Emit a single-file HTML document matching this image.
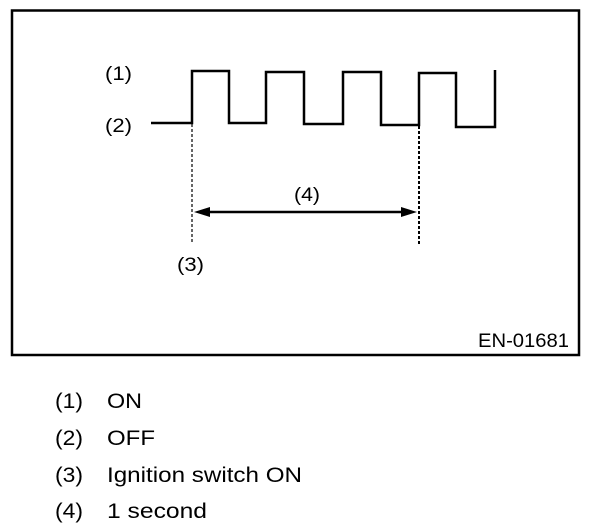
<!DOCTYPE html>
<html><head><style>
body{margin:0;background:#fff;width:608px;height:532px;overflow:hidden}
svg{display:block}
text{font-family:"Liberation Sans",Arial,sans-serif;fill:#000}
</style></head><body>
<svg width="608" height="532" viewBox="0 0 608 532">
<rect x="12" y="10.5" width="567" height="344.5" fill="none" stroke="#000" stroke-width="2.5"/>
<polyline fill="none" stroke="#000" stroke-width="2.5" points="151,123 192,123 192,71 229,71 229,123 266,123 266,72 304,72 304,124 343,124 343,72 381,72 381,125 419,125 419,73 456,73 456,127 495,127 495,70"/>
<line x1="192" y1="124" x2="192" y2="242" stroke="#000" stroke-width="1.2" stroke-dasharray="3,2"/>
<line x1="419" y1="126" x2="419" y2="244" stroke="#000" stroke-width="2" stroke-dasharray="3,2"/>
<line x1="200" y1="212" x2="410" y2="212" stroke="#000" stroke-width="2.5"/>
<polygon points="194,212 210,207 210,217" fill="#000"/>
<polygon points="417,212 401,207 401,217" fill="#000"/>
<g font-size="19">
<text x="105" y="80" textLength="27" lengthAdjust="spacingAndGlyphs">(1)</text>
<text x="105" y="132" textLength="27" lengthAdjust="spacingAndGlyphs">(2)</text>
<text x="294" y="201" textLength="26" lengthAdjust="spacingAndGlyphs">(4)</text>
<text x="177" y="271" textLength="27" lengthAdjust="spacingAndGlyphs">(3)</text>
<text x="478" y="347" textLength="91" lengthAdjust="spacingAndGlyphs">EN-01681</text>
</g>
<g font-size="21">
<text x="55" y="408" textLength="28" lengthAdjust="spacingAndGlyphs">(1)</text><text x="107" y="408" textLength="35" lengthAdjust="spacingAndGlyphs">ON</text>
<text x="55" y="445" textLength="28" lengthAdjust="spacingAndGlyphs">(2)</text><text x="107" y="445" textLength="48" lengthAdjust="spacingAndGlyphs">OFF</text>
<text x="55" y="482" textLength="28" lengthAdjust="spacingAndGlyphs">(3)</text><text x="107" y="482" textLength="195" lengthAdjust="spacingAndGlyphs">Ignition switch ON</text>
<text x="55" y="518" textLength="28" lengthAdjust="spacingAndGlyphs">(4)</text><text x="107" y="518" textLength="100" lengthAdjust="spacingAndGlyphs">1 second</text>
</g>
</svg>
</body></html>
